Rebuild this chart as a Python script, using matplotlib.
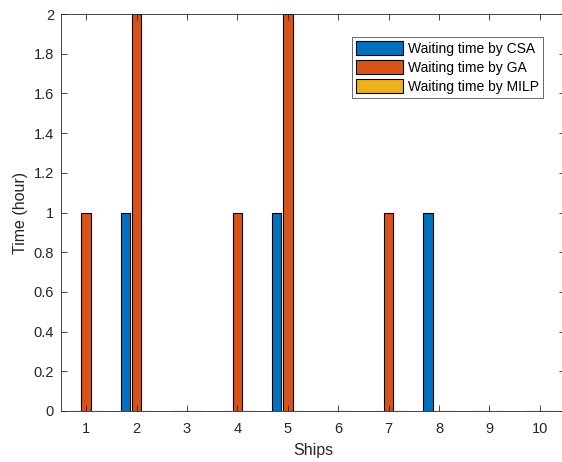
import matplotlib
matplotlib.use("Agg")
import matplotlib.pyplot as plt
import numpy as np

ships = [1, 2, 3, 4, 5, 6, 7, 8, 9, 10]
csa = [0, 1, 0, 0, 1, 0, 0, 1, 0, 0]
ga = [1, 2, 0, 1, 2, 0, 1, 0, 0, 0]
milp = [0, 0, 0, 0, 0, 0, 0, 0, 0, 0]
labels = ["Waiting time by CSA", "Waiting time by GA", "Waiting time by MILP"]
colors = ["#0072BD", "#D95319", "#EDB120"]

plt.rcParams['font.family'] = ['Liberation Sans', 'DejaVu Sans']

fig = plt.figure(figsize=(5.62, 4.62), dpi=100)
ax = fig.add_axes([61/562, 1-411/462, 504/562, (411-14)/462])

x = np.array(ships, dtype=float)
w = 0.19
offs = [-0.222, 0.0, 0.222]
for vals, off, c, lab in zip([csa, ga, milp], offs, colors, labels):
    ax.bar(x + off, vals, width=w, color=c, edgecolor='black', linewidth=0.8, label=lab)

ax.set_xlim(0.5, 10.5)
ax.set_ylim(0, 2)
ax.set_xticks(ships)
ax.set_yticks(np.arange(0, 2.01, 0.2))
ax.set_yticklabels(['0', '0.2', '0.4', '0.6', '0.8', '1', '1.2', '1.4', '1.6', '1.8', '2'])
ax.tick_params(direction='in', top=True, right=True, labelsize=10.5, colors='#262626', length=4, width=0.6)
ax.tick_params(axis='x', pad=8)
ax.tick_params(axis='y', pad=5)
for s in ax.spines.values():
    s.set_color('#262626')
    s.set_linewidth(0.6)
ax.set_xlabel('Ships', fontsize=11.5, color='#262626', labelpad=5)
ax.set_ylabel('Time (hour)', fontsize=11.5, color='#262626', labelpad=4)

leg = ax.legend(loc='upper left', bbox_to_anchor=(352/562, 1-37/462), bbox_transform=fig.transFigure,
                fontsize=10, frameon=True, fancybox=False, edgecolor='#262626',
                handlelength=3.4, handleheight=1.2, handletextpad=0.3, borderpad=0.3,
                labelspacing=0.3, borderaxespad=0)
leg.get_frame().set_linewidth(0.6)

fig.savefig('out.png', dpi=100)
